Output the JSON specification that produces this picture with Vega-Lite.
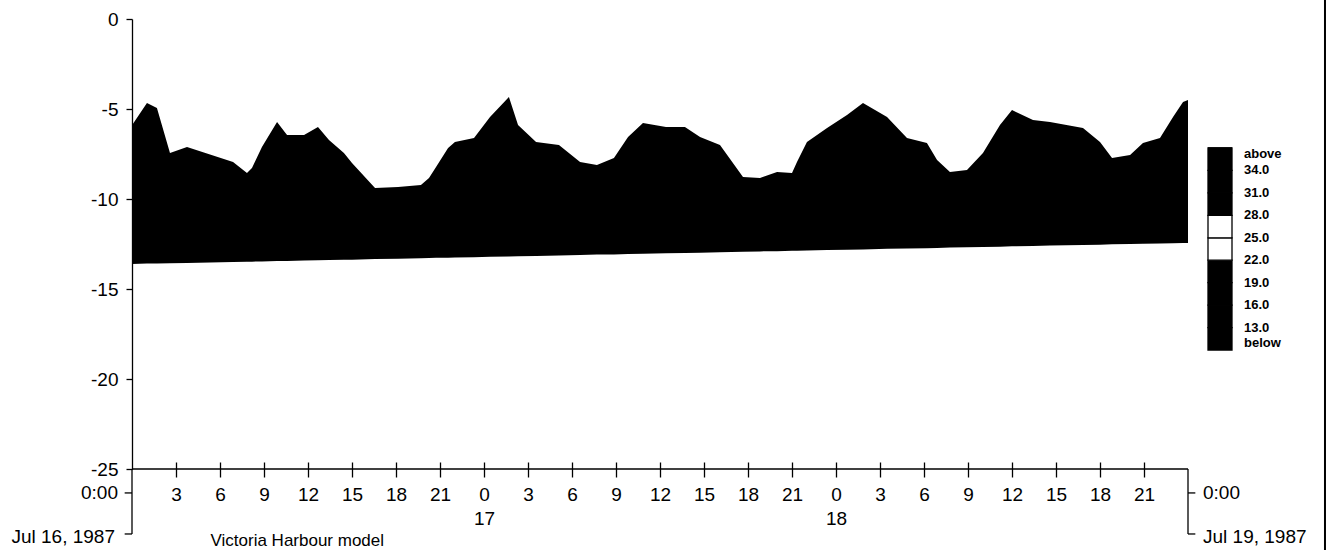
{
  "$schema": "https://vega.github.io/schema/vega-lite/v6.json",
  "width": 1056,
  "height": 450,
  "autosize": {"type": "none"},
  "padding": {"left": 132, "top": 19, "right": 145, "bottom": 81},
  "background": "white",
  "config": {
    "font": "Liberation Sans",
    "view": {"stroke": null},
    "axis": {"grid": false, "domainColor": "black", "tickColor": "black", "labelColor": "black", "titleColor": "black"},
    "legend": {"labelColor": "black"}
  },
  "layer": [
    {
      "data": {"values": [
        {"hour": 0, "top": -5.9, "bottom": -13.61},
        {"hour": 1.02, "top": -4.67, "bottom": -13.59},
        {"hour": 1.7, "top": -4.94, "bottom": -13.58},
        {"hour": 2.59, "top": -7.44, "bottom": -13.57},
        {"hour": 3.75, "top": -7.11, "bottom": -13.55},
        {"hour": 6.89, "top": -7.94, "bottom": -13.5},
        {"hour": 7.84, "top": -8.56, "bottom": -13.48},
        {"hour": 8.18, "top": -8.28, "bottom": -13.48},
        {"hour": 8.86, "top": -7.11, "bottom": -13.47},
        {"hour": 9.89, "top": -5.72, "bottom": -13.45},
        {"hour": 10.57, "top": -6.44, "bottom": -13.44},
        {"hour": 11.73, "top": -6.44, "bottom": -13.42},
        {"hour": 12.68, "top": -6.0, "bottom": -13.4},
        {"hour": 13.43, "top": -6.72, "bottom": -13.39},
        {"hour": 14.45, "top": -7.44, "bottom": -13.38},
        {"hour": 15.0, "top": -8.0, "bottom": -13.37},
        {"hour": 16.57, "top": -9.39, "bottom": -13.34},
        {"hour": 18.14, "top": -9.33, "bottom": -13.32},
        {"hour": 19.7, "top": -9.22, "bottom": -13.29},
        {"hour": 20.25, "top": -8.83, "bottom": -13.28},
        {"hour": 20.73, "top": -8.22, "bottom": -13.27},
        {"hour": 21.55, "top": -7.17, "bottom": -13.26},
        {"hour": 22.02, "top": -6.83, "bottom": -13.25},
        {"hour": 23.32, "top": -6.61, "bottom": -13.23},
        {"hour": 24.41, "top": -5.44, "bottom": -13.21},
        {"hour": 25.7, "top": -4.33, "bottom": -13.19},
        {"hour": 26.32, "top": -5.89, "bottom": -13.18},
        {"hour": 27.55, "top": -6.83, "bottom": -13.16},
        {"hour": 29.11, "top": -7.0, "bottom": -13.14},
        {"hour": 30.55, "top": -7.94, "bottom": -13.11},
        {"hour": 31.7, "top": -8.11, "bottom": -13.09},
        {"hour": 32.86, "top": -7.72, "bottom": -13.08},
        {"hour": 33.82, "top": -6.56, "bottom": -13.06},
        {"hour": 34.84, "top": -5.78, "bottom": -13.04},
        {"hour": 36.41, "top": -6.0, "bottom": -13.02},
        {"hour": 37.7, "top": -6.0, "bottom": -13.0},
        {"hour": 38.73, "top": -6.56, "bottom": -12.98},
        {"hour": 40.09, "top": -7.0, "bottom": -12.96},
        {"hour": 41.66, "top": -8.78, "bottom": -12.93},
        {"hour": 42.82, "top": -8.83, "bottom": -12.91},
        {"hour": 43.98, "top": -8.5, "bottom": -12.9},
        {"hour": 45.0, "top": -8.56, "bottom": -12.88},
        {"hour": 45.34, "top": -7.94, "bottom": -12.87},
        {"hour": 46.02, "top": -6.83, "bottom": -12.86},
        {"hour": 47.39, "top": -6.06, "bottom": -12.84},
        {"hour": 48.75, "top": -5.33, "bottom": -12.82},
        {"hour": 49.84, "top": -4.67, "bottom": -12.8},
        {"hour": 51.48, "top": -5.44, "bottom": -12.77},
        {"hour": 52.84, "top": -6.61, "bottom": -12.75},
        {"hour": 54.2, "top": -6.89, "bottom": -12.73},
        {"hour": 54.89, "top": -7.83, "bottom": -12.72},
        {"hour": 55.77, "top": -8.5, "bottom": -12.7},
        {"hour": 56.93, "top": -8.39, "bottom": -12.68},
        {"hour": 58.02, "top": -7.44, "bottom": -12.67},
        {"hour": 59.18, "top": -5.89, "bottom": -12.65},
        {"hour": 60.0, "top": -5.06, "bottom": -12.63},
        {"hour": 61.43, "top": -5.61, "bottom": -12.61},
        {"hour": 62.59, "top": -5.72, "bottom": -12.59},
        {"hour": 64.84, "top": -6.06, "bottom": -12.56},
        {"hour": 66.0, "top": -6.83, "bottom": -12.54},
        {"hour": 66.82, "top": -7.72, "bottom": -12.52},
        {"hour": 68.05, "top": -7.56, "bottom": -12.5},
        {"hour": 68.93, "top": -6.89, "bottom": -12.49},
        {"hour": 70.09, "top": -6.61, "bottom": -12.47},
        {"hour": 70.98, "top": -5.44, "bottom": -12.46},
        {"hour": 71.66, "top": -4.61, "bottom": -12.45},
        {"hour": 72.0, "top": -4.5, "bottom": -12.44}
      ]},
      "mark": {"type": "area", "interpolate": "linear"},
      "encoding": {
        "x": {
          "field": "hour", "type": "quantitative",
          "scale": {"domain": [0, 72], "nice": false, "zero": false},
          "axis": {
            "values": [3, 6, 9, 12, 15, 18, 21, 24, 27, 30, 33, 36, 39, 42, 45, 48, 51, 54, 57, 60, 63, 66, 69],
            "labelExpr": "datum.value % 24 == 0 ? ['0', datum.value == 24 ? '17' : '18'] : toString(datum.value % 24)",
            "tickSize": 15, "tickWidth": 1.3, "offset": -7, "domain": false,
            "labelPadding": 8, "labelFontSize": 19, "labelLineHeight": 24,
            "labelOverlap": false, "labelBound": false, "labelFlush": false,
            "title": "Victoria Harbour model", "titleFontSize": 17, "titleFontWeight": "normal",
            "titleX": 78, "titleY": 83, "titleAlign": "left", "titleBaseline": "alphabetic", "titleAnchor": "start"
          }
        },
        "y": {
          "field": "top", "type": "quantitative",
          "scale": {"domain": [-25, 0], "nice": false, "zero": false},
          "axis": {
            "values": [0, -5, -10, -15, -20, -25],
            "labelExpr": "toString(datum.value)",
            "tickSize": 6, "tickWidth": 1.3, "domainWidth": 1.3,
            "labelPadding": 8, "labelFontSize": 19, "title": null
          }
        },
        "y2": {"field": "bottom"},
        "color": {
          "datum": 30, "type": "quantitative",
          "scale": {"type": "quantize", "domain": [10, 37], "range": ["black", "black", "black", "black", "white", "white", "black", "black", "black"]},
          "legend": {
            "type": "gradient", "direction": "vertical", "orient": "none",
            "legendX": 1076, "legendY": 129,
            "gradientLength": 202, "gradientThickness": 24,
            "gradientStrokeColor": "black", "gradientStrokeWidth": 1.3,
            "title": null, "labelFontSize": 13, "labelFontWeight": "bold", "labelOffset": 12,
            "labelOverlap": false,
            "values": [10, 13, 16, 19, 22, 25, 28, 31, 34, 37],
            "labelExpr": "datum.value <= 10 ? 'below' : datum.value >= 37 ? 'above' : format(datum.value, '.1f')"
          }
        }
      }
    },
    {
      "data": {"values": [{}]},
      "mark": {"type": "rule", "color": "black", "strokeWidth": 1.3},
      "encoding": {"y": {"datum": -25}}
    },
    {
      "data": {"values": [{}]},
      "mark": {"type": "rule", "color": "black", "strokeWidth": 1.3},
      "encoding": {"x": {"datum": 0}, "y": {"datum": -25}, "y2": {"datum": -28.61}}
    },
    {
      "data": {"values": [{}]},
      "mark": {"type": "rule", "color": "black", "strokeWidth": 1.3},
      "encoding": {"x": {"datum": -0.5}, "x2": {"datum": 0}, "y": {"datum": -26.33}}
    },
    {
      "data": {"values": [{}]},
      "mark": {"type": "rule", "color": "black", "strokeWidth": 1.3},
      "encoding": {"x": {"datum": -0.5}, "x2": {"datum": 0}, "y": {"datum": -28.61}}
    },
    {
      "data": {"values": [{}]},
      "mark": {"type": "rule", "color": "black", "strokeWidth": 1.3},
      "encoding": {"x": {"datum": 72}, "y": {"datum": -25}, "y2": {"datum": -28.61}}
    },
    {
      "data": {"values": [{}]},
      "mark": {"type": "rule", "color": "black", "strokeWidth": 1.3},
      "encoding": {"x": {"datum": 72}, "x2": {"datum": 72.5}, "y": {"datum": -26.33}}
    },
    {
      "data": {"values": [{}]},
      "mark": {"type": "rule", "color": "black", "strokeWidth": 1.3},
      "encoding": {"x": {"datum": 72}, "x2": {"datum": 72.5}, "y": {"datum": -28.61}}
    },
    {
      "data": {"values": [{}]},
      "mark": {"type": "rule", "color": "black", "strokeWidth": 2},
      "encoding": {"x": {"datum": 81.34}, "y": {"datum": 1.06}, "y2": {"datum": -29.5}}
    },
    {
      "data": {"values": [{}]},
      "mark": {"type": "text", "align": "right", "baseline": "middle", "dx": -14, "fontSize": 19, "color": "black"},
      "encoding": {"x": {"datum": 0}, "y": {"datum": -26.33}, "text": {"value": "0:00"}}
    },
    {
      "data": {"values": [{}]},
      "mark": {"type": "text", "align": "right", "baseline": "middle", "dx": -17, "fontSize": 19, "color": "black"},
      "encoding": {"x": {"datum": 0}, "y": {"datum": -28.78}, "text": {"value": "Jul 16, 1987"}}
    },
    {
      "data": {"values": [{}]},
      "mark": {"type": "text", "align": "left", "baseline": "middle", "dx": 15, "fontSize": 19, "color": "black"},
      "encoding": {"x": {"datum": 72}, "y": {"datum": -26.33}, "text": {"value": "0:00"}}
    },
    {
      "data": {"values": [{}]},
      "mark": {"type": "text", "align": "left", "baseline": "middle", "dx": 15, "fontSize": 19, "color": "black"},
      "encoding": {"x": {"datum": 72}, "y": {"datum": -28.78}, "text": {"value": "Jul 19, 1987"}}
    }
  ]
}
